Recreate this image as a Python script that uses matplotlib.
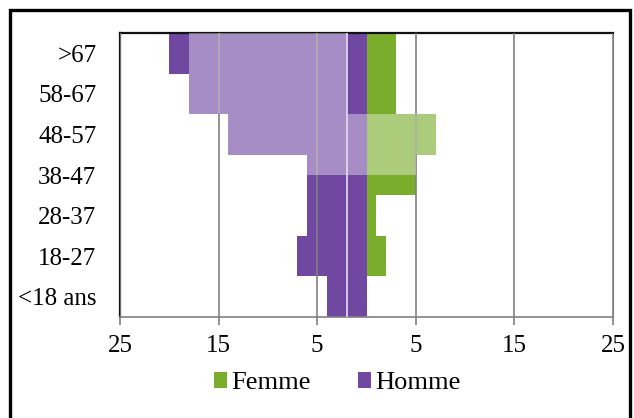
import matplotlib
matplotlib.use("Agg")
import matplotlib.pyplot as plt
from matplotlib.patches import Rectangle
import numpy as np

# tranches d'age (de bas en haut)
tranches = ["<18 ans", "18-27", "28-37", "38-47", "48-57", "58-67", ">67"]
homme = [4, 7, 6, 6, 14, 18, 20]
femme = [0, 2, 1, 5, 7, 3, 3]
graduations = [-25, -15, -5, 5, 15, 25]

plt.rcParams['font.family'] = ['Liberation Serif', 'DejaVu Serif']
taille = 18

fig = plt.figure(figsize=(6.34, 4.18), dpi=100)
ax = fig.add_axes([120/634, 1-317/418, 493/634, 284/418])

y = np.arange(len(tranches))
ax.barh(y, -np.array(homme), height=1.0, color="#7048a2", label="Homme", zorder=2)
ax.barh(y, femme, height=1.0, color="#7aad2c", label="Femme", zorder=2)

# voile clair (artefact de l'image d'origine)
voile = [(-18, 5, 16, 2), (-14, 4, 21, 1), (-6, 3.5, 11, 0.5)]
for x0, y0, w, h in voile:
    ax.add_patch(Rectangle((x0, y0 - 0.5), w, h, facecolor="white",
                           alpha=0.38, edgecolor="none", zorder=3))

ax.axvline(-2, color="#e6ddf2", lw=1.2, zorder=4)

ax.set_xlim(-25, 25)
ax.set_ylim(-0.5, len(tranches) - 0.5)
ax.set_xticks(graduations)
ax.set_xticklabels([str(abs(v)) for v in graduations], fontsize=taille)
ax.set_yticks(y)
ax.set_yticklabels(tranches, fontsize=taille, ha="right")
ax.tick_params(axis="y", length=0, pad=17)
ax.tick_params(axis="x", length=6, width=1.2, color="#808080", pad=7, direction="out")
ax.grid(axis="x", color="#808080", lw=1.2, zorder=5)
ax.set_axisbelow(False)
for s in ["left", "top"]:
    ax.spines[s].set_color("#111111")
    ax.spines[s].set_linewidth(1.6)
ax.spines["right"].set_color("#808080")
ax.spines["bottom"].set_color("#808080")
ax.spines["bottom"].set_linewidth(1.2)

handles, labels = ax.get_legend_handles_labels()
fig.legend(handles[::-1], labels[::-1], loc="center", bbox_to_anchor=(337/634, 1-383/418),
           ncol=2, frameon=False, fontsize=taille + 1, handlelength=0.5, handleheight=0.55,
           handletextpad=0.15, columnspacing=1.8)

fig.add_artist(Rectangle((10/634, -0.05), 620/634, 1.05 - 10/418, transform=fig.transFigure,
                         fill=False, edgecolor="black", lw=2.4))

fig.savefig("out.png", dpi=100)
